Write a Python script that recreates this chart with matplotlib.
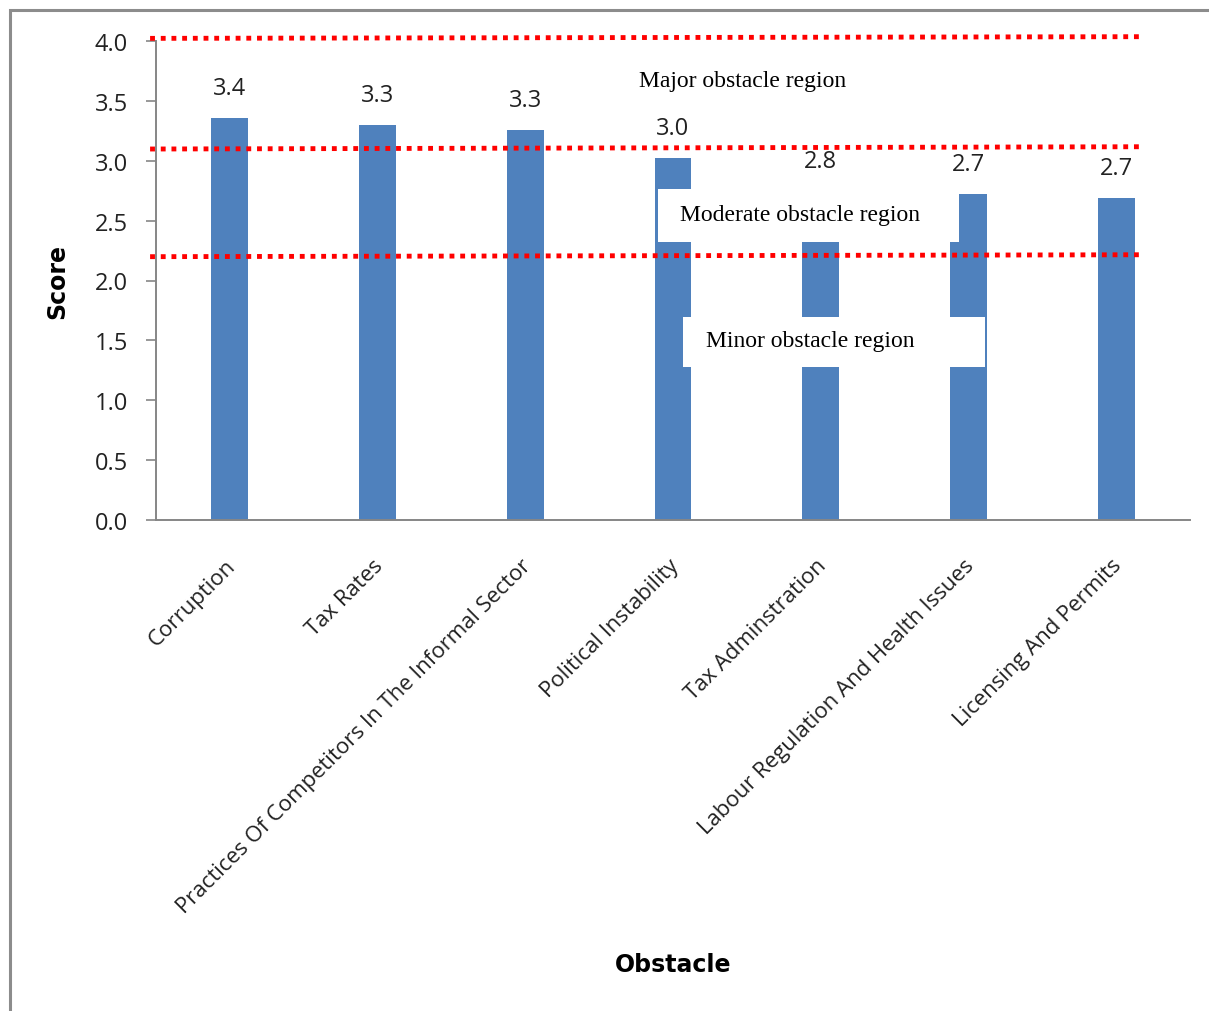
import matplotlib
matplotlib.use("Agg")
import matplotlib.pyplot as plt
from matplotlib.patches import Rectangle
from matplotlib.transforms import ScaledTranslation

# Mean obstacle scores
obstacles = [
    "Corruption",
    "Tax Rates",
    "Practices Of Competitors In The Informal Sector",
    "Political Instability",
    "Tax Adminstration",
    "Labour Regulation And Health Issues",
    "Licensing And Permits",
]
scores = [3.36, 3.30, 3.26, 3.02, 2.75, 2.72, 2.69]

# Hand-drawn region boundaries (score at left end, score at right end)
boundary_left = [4.022, 3.098, 2.199]
boundary_right = [4.036, 3.117, 2.215]
yticks = [0.0, 0.5, 1.0, 1.5, 2.0, 2.5, 3.0, 3.5, 4.0]

W, H = 1209, 1012
AX_L, AX_R, AX_T, AX_B = 156, 1190, 42, 521

fig = plt.figure(figsize=(W / 100, H / 100), dpi=100)
fig.patch.set_facecolor("white")

# Outer chart frame
fig.add_artist(Rectangle((10 / W, -0.05), 1.2, 1 - 11 / H + 0.05,
                         transform=fig.transFigure, fill=False,
                         edgecolor="#8c8c8c", linewidth=2.2))

ax = fig.add_axes([AX_L / W, 1 - AX_B / H, (AX_R - AX_L) / W, (AX_B - AX_T) / H])
x = list(range(len(obstacles)))
ax.bar(x, scores, width=0.25, color="#4F81BD", zorder=2)

ax.set_xlim(-0.5, len(obstacles) - 0.5)
ax.set_ylim(0, 4.0)
ax.set_yticks(yticks)
ax.set_yticklabels([f"{t:.1f}" for t in yticks], family="Open Sans",
                   fontsize=17, color="#222222")
ax.tick_params(axis="y", length=7, width=1.2, color="#868686", pad=13)
ax.tick_params(axis="x", length=0, pad=25)
for side in ("top", "right"):
    ax.spines[side].set_visible(False)
for side in ("left", "bottom"):
    ax.spines[side].set_color("#868686")
    ax.spines[side].set_linewidth(1.4)

ax.set_xticks(x)
ax.set_xticklabels(obstacles, rotation=45, ha="right", va="top",
                   rotation_mode="anchor", family="Open Sans",
                   fontsize=15.9, color="#222222")
shift = ScaledTranslation(-5 / 100, 0, fig.dpi_scale_trans)
for lbl in ax.get_xticklabels():
    lbl.set_transform(lbl.get_transform() + shift)

# Value labels above bars
for xi, v in zip(x, scores):
    ax.annotate(f"{v:.1f}", (xi, v), xytext=(0, 21.5), textcoords="offset points",
                ha="center", va="center", family="Open Sans", fontsize=17,
                color="#222222")

ax.set_ylabel("Score", family="DejaVu Sans", fontweight="bold", fontsize=17)
ax.set_xlabel("Obstacle", family="DejaVu Sans", fontweight="bold", fontsize=17)
ax.xaxis.set_label_coords(0.5, 1 - (953 - AX_T) / (AX_B - AX_T))
ax.yaxis.set_label_coords((69 - AX_L) / (AX_R - AX_L), 0.5)

# Dotted region boundaries
for yl, yr in zip(boundary_left, boundary_right):
    ax.plot([-0.54, 6.16], [yl, yr], color="#FF0000",
            linewidth=3.5, linestyle=(0, (1, 1.2)), dash_capstyle="butt",
            clip_on=False, zorder=5)


def px_to_axes(px, py):
    return ((px - AX_L) / (AX_R - AX_L), (AX_B - py) / (AX_B - AX_T))


serif = "Liberation Serif"


def region_caption(label, tx, ty, box=None):
    if box is not None:
        x0, y0, x1, y1 = box
        ax0, ay0 = px_to_axes(x0, y1)
        ax1, ay1 = px_to_axes(x1, y0)
        ax.add_patch(Rectangle((ax0, ay0), ax1 - ax0, ay1 - ay0,
                               transform=ax.transAxes, facecolor="white",
                               edgecolor="none", zorder=3))
    cx, cy = px_to_axes(tx, ty)
    ax.text(cx, cy, label, transform=ax.transAxes, ha="center", va="center",
            family=serif, fontsize=17, color="black", zorder=4)


region_caption("Major obstacle region", 743, 81)
region_caption("Moderate obstacle region", 800, 216, box=(658, 190, 959, 243))
region_caption("Minor obstacle region", 810, 341, box=(683, 318, 985, 368))

fig.savefig("out.png", dpi=100, facecolor="white")
